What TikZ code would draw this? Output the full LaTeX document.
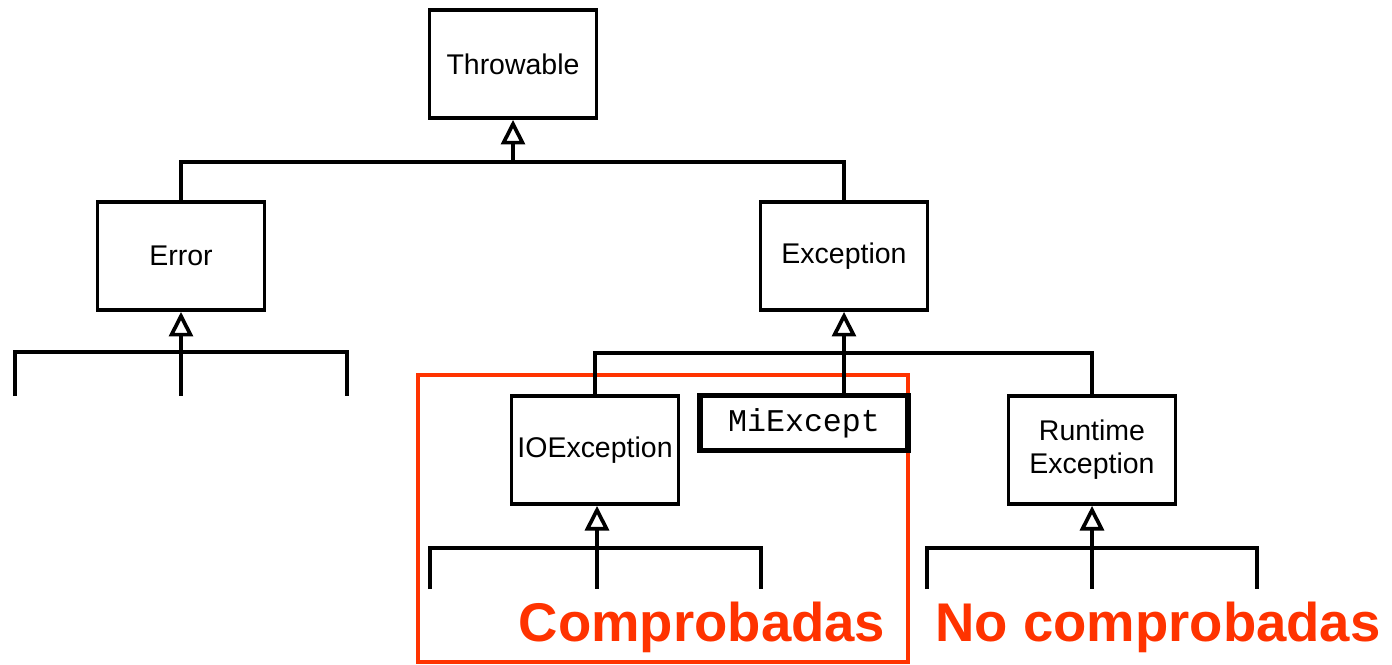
\documentclass[tikz,border=0pt]{standalone}
\usepackage{fontspec}
\setmainfont{Liberation Sans}
\setmonofont{Liberation Mono}
\usetikzlibrary{arrows.meta}

\definecolor{checkred}{HTML}{FF3300}

\begin{document}
\begin{tikzpicture}
    [x=0.01cm, y=-0.01cm,
    %Option for the class boxes
    class/.style={draw, line width=1.05pt, minimum width=1.67cm, minimum height=1.08cm,%
        inner sep=0pt, align=center, font=\fontsize{8.1}{9.4}\selectfont},
    link/.style={line width=1.05pt},
    inh/.style={link, {Triangle[open,length=7pt,width=6.8pt]}-}];

    \useasboundingbox (0,0) rectangle (1392,664);

    % Checked frame (under the boxes)
    \draw[checkred, line width=1.25pt] (418,375) rectangle (908,662);

    % Classes
    \node[class] (Throwable) at (513,64) {Throwable};
    \node[class] (Error) at (181,256) {Error};
    \node[class] (Exception) at (844,256) {Exception};
    \node[class] (IOException) at (595,450) {IOException};
    \node[class] (Runtime) at (1092,450) {Runtime\\Exception};
    \node[draw, line width=1.6pt, minimum width=2.08cm, minimum height=0.55cm, inner sep=0pt,
        font=\fontsize{9}{10}\ttfamily] (MiExcept) at (804,423) {MiExcept};

    % Throwable
    \coordinate (tj) at (513,162);
    \draw[inh] (Throwable) -- (tj);
    \draw[link] (Error) |- (tj) -| (Exception);

    % Exception
    \coordinate (ej) at (844,353);
    \draw[inh] (Exception) -- (ej);
    \draw[link] (IOException) |- (ej) -| (Runtime);
    \draw[link] (ej) -- (ej |- MiExcept.north);

    % Error subclasses
    \coordinate (errj) at (181,352);
    \coordinate (e1) at (15,396);
    \coordinate (e2) at (181,396);
    \coordinate (e3) at (347,396);
    \draw[inh] (Error) -- (e2);
    \draw[link] (e1) |- (errj) -| (e3);

    % IOException subclasses
    \coordinate (ioj) at (597,548);
    \coordinate (i1) at (430,589);
    \coordinate (i2) at (597,589);
    \coordinate (i3) at (761,589);
    \draw[inh] (IOException.south -| ioj) -- (i2);
    \draw[link] (i1) |- (ioj) -| (i3);

    % RuntimeException subclasses
    \coordinate (rj) at (1092,548);
    \coordinate (r1) at (927,589);
    \coordinate (r2) at (1092,589);
    \coordinate (r3) at (1257,589);
    \draw[inh] (Runtime) -- (r2);
    \draw[link] (r1) |- (rj) -| (r3);

    % Checked / unchecked
    \node[checkred, anchor=base, font=\fontsize{15.5}{18}\selectfont\bfseries] (checked) at (702,641) {Comprobadas};
    \node[checkred, anchor=base, font=\fontsize{15.5}{18}\selectfont\bfseries] (unchecked) at (1158,641) {No comprobadas};

\end{tikzpicture}
\end{document}
